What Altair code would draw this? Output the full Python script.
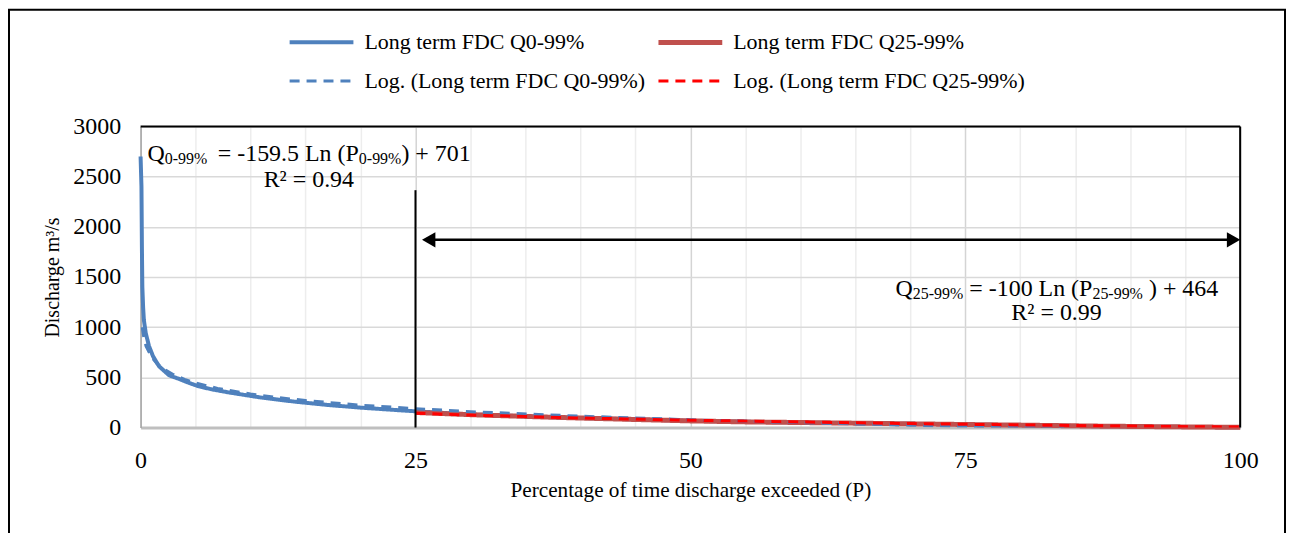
import altair as alt
import pandas as pd

FONT = "Liberation Serif"

# ---- series names ----
names = [
    "Long term FDC Q0-99%",
    "Long term FDC Q25-99%",
    "Log. (Long term FDC Q0-99%)",
    "Log. (Long term FDC Q25-99%)",
]
colors = ["#4f81bd", "#c0504d", "#4f81bd", "#ff0000"]

# ---- Long term FDC Q0-99% (blue solid) ----
fdc0_p = [0, 0.08, 0.12, 0.16, 0.23, 0.3, 0.47, 0.77, 1.13, 1.68,
          2.6, 3.5, 4.4, 5.3, 6.5, 8, 11, 14, 17, 20,
          24.5, 30, 37.5, 45, 50, 55, 63, 70, 75, 80,
          87, 95, 100]
fdc0_q = [2700, 2400, 1800, 1400, 1200, 1070, 940, 810, 710, 610,
          520, 484, 445, 410, 380, 350, 298, 258, 225, 198,
          165, 130, 103, 81, 67, 57, 46, 37, 30, 23,
          13, 6, 2]

# ---- Long term FDC Q25-99% (red solid) ----
fdc25_p = [25, 30, 37.5, 45, 50, 55, 63, 70, 75, 80, 87, 95, 100]
fdc25_q = [150, 128, 102, 80, 66, 56, 46, 37, 30, 24, 14, 6, 2]

# ---- Log. trend of Q0-99% (blue dashed) ----
log0_p = [0.15, 0.3, 0.5, 1, 1.5, 2, 3, 4, 5, 7, 10, 12.5, 15, 20, 25, 30, 40, 50, 60, 70, 75, 80, 84]
log0_q = [1000, 893, 811, 701, 636, 590, 526, 480, 444, 390, 334, 298, 269, 223, 188, 158, 113, 77, 48, 23, 12, 2, -6]

# ---- Log. trend of Q25-99% (red dashed) ----
log25_p = [25, 30, 40, 50, 60, 70, 75, 80, 90, 100]
log25_q = [142, 124, 95, 73, 55, 39, 32, 26, 14, 4]

# ---- annotation values ----
x_ticks = list(range(0, 101, 5))
y_ticks = [0, 500, 1000, 1500, 2000, 2500, 3000]
split_p = 25
split_top_q = 2365
arrow_q = 1870
arrow_p = [26.2, 99.4]
eq1_parts = ["Q", "0-99%", "= -159.5 Ln (P", "0-99%", ") + 701"]
eq2_parts = ["Q", "25-99%", "= -100 Ln (P", "25-99%", ") + 464"]
r2_texts = ["R\u00b2 = 0.94", "R\u00b2 = 0.99"]

x_enc = alt.X(
    "P:Q",
    scale=alt.Scale(domain=[0, 100], nice=False, zero=False),
    axis=alt.Axis(
        values=x_ticks,
        labelExpr="datum.value % 25 === 0 ? datum.label : ''",
        labelOverlap=False,
        labelFlush=False,
        ticks=False,
        tickSize=0,
        grid=True,
        gridColor=alt.condition("datum.value % 25 === 0", alt.value("#d4d4d4"), alt.value("#ededed")),
        gridWidth=1.5,
        domainColor="#bfbfbf",
        domainWidth=3,
        labelFont=FONT,
        labelFontSize=24,
        labelColor="black",
        labelPadding=21,
        title="Percentage of time discharge exceeded (P)",
        titleFont=FONT,
        titleFontSize=21.3,
        titleFontWeight="normal",
        titleColor="black",
        titleBaseline="alphabetic",
        titleY=69,
    ),
)
y_enc = alt.Y(
    "Q:Q",
    scale=alt.Scale(domain=[0, 3000], nice=False, zero=False),
    axis=alt.Axis(
        values=y_ticks,
        format="d",
        labelOverlap=False,
        labelFlush=False,
        ticks=False,
        tickSize=0,
        grid=True,
        gridColor="#d9d9d9",
        gridWidth=1.5,
        domainColor="#a6a6a6",
        domainWidth=1.5,
        labelFont=FONT,
        labelFontSize=24,
        labelColor="black",
        labelPadding=20,
        title="Discharge m\u00b3/s",
        titleFont=FONT,
        titleFontSize=20,
        titleFontWeight="normal",
        titleColor="black",
        titleBaseline="alphabetic",
        titleX=-82,
    ),
)

legend = alt.Legend(
    title=None,
    orient="none",
    direction="horizontal",
    legendX=163,
    legendY=-103,
    columns=2,
    symbolType="M-2,0H2",
    symbolSize=1024,
    symbolStrokeWidth=3,
    labelFont=FONT,
    labelFontSize=22,
    labelColor="black",
    labelLimit=600,
    labelOffset=24.5,
    columnPadding=2,
    rowPadding=10,
    padding=0,
)
color_enc = alt.Color("series:N", scale=alt.Scale(domain=names, range=colors), legend=legend)
dash_enc = alt.StrokeDash(
    "series:N",
    scale=alt.Scale(domain=names, range=[[1, 0], [1, 0], [10, 7], [10, 7]]),
    legend=legend,
)
width_enc = alt.StrokeWidth(
    "series:N",
    scale=alt.Scale(type="ordinal", domain=names, range=[4, 5, 3, 3]),
    legend=legend,
)


def series_df(p, q, name):
    return pd.DataFrame({"P": p, "Q": q, "series": name})


layers = []

# outer chart border
layers.append(
    alt.Chart(pd.DataFrame({"a": [0]}))
    .mark_rect(filled=False, stroke="black", strokeWidth=2)
    .encode(x=alt.value(-132), x2=alt.value(1148), y=alt.value(-117), y2=alt.value(411))
)

series_specs = [
    (fdc0_p, fdc0_q, names[0], False),
    (fdc25_p, fdc25_q, names[1], False),
    (log0_p, log0_q, names[2], True),
    (log25_p, log25_q, names[3], True),
]
for p, q, name, clip in series_specs:
    layers.append(
        alt.Chart(series_df(p, q, name))
        .mark_line(clip=clip)
        .encode(x=x_enc, y=y_enc, color=color_enc, strokeDash=dash_enc, strokeWidth=width_enc)
    )

# frame (top / right) and split line at P = 25
frame_df = pd.DataFrame({
    "P": [0, 100, split_p],
    "P2": [100, 100, split_p],
    "Q": [3000, 0, 0],
    "Q2": [3000, 3000, split_top_q],
})
layers.append(
    alt.Chart(frame_df).mark_rule(color="black", strokeWidth=2)
    .encode(x=x_enc, x2="P2:Q", y=y_enc, y2="Q2:Q")
)

# double arrow
arrow_df = pd.DataFrame({"P": [arrow_p[0]], "P2": [arrow_p[1]], "Q": [arrow_q], "Q2": [arrow_q]})
layers.append(
    alt.Chart(arrow_df).mark_rule(color="black", strokeWidth=2.5)
    .encode(x=x_enc, x2="P2:Q", y=y_enc, y2="Q2:Q")
)
for pp, shape in [(arrow_p[0], "triangle-left"), (arrow_p[1], "triangle-right")]:
    layers.append(
        alt.Chart(pd.DataFrame({"P": [pp], "Q": [arrow_q]}))
        .mark_point(shape=shape, filled=True, size=240, color="black", opacity=1)
        .encode(x=x_enc, y=y_enc)
    )

# equations (rich text built from segments)
eq_dx = {
    "eq1": [0, 17.3, 70.5, 212, 254.7],
    "eq2": [0, 17.3, 74, 197.5, 254.2],
}
is_sub = [False, True, False, True, False]
eq_anchor = {"eq1": (0.63, 2652), "eq2": (68.66, 1311)}
for key, parts in [("eq1", eq1_parts), ("eq2", eq2_parts)]:
    ap, aq = eq_anchor[key]
    for i, txt in enumerate(parts):
        sub = is_sub[i]
        layers.append(
            alt.Chart(pd.DataFrame({"P": [ap], "Q": [aq], "t": [txt]}))
            .mark_text(
                align="left", baseline="alphabetic", font=FONT,
                fontSize=16 if sub else 24, dx=eq_dx[key][i], dy=3 if sub else 0,
                color="black",
            )
            .encode(x=x_enc, y=y_enc, text="t:N")
        )

r2_df = pd.DataFrame({"P": [15.3, 83.3], "Q": [2394, 1073], "t": r2_texts})
layers.append(
    alt.Chart(r2_df)
    .mark_text(align="center", baseline="alphabetic", font=FONT, fontSize=24, color="black")
    .encode(x=x_enc, y=y_enc, text="t:N")
)

chart = (
    alt.layer(*layers)
    .properties(width=1103, height=302, padding=0, background="white")
    .configure_view(strokeWidth=0)
)

chart.save("out.html", embed_options={"renderer": "svg", "actions": False})
